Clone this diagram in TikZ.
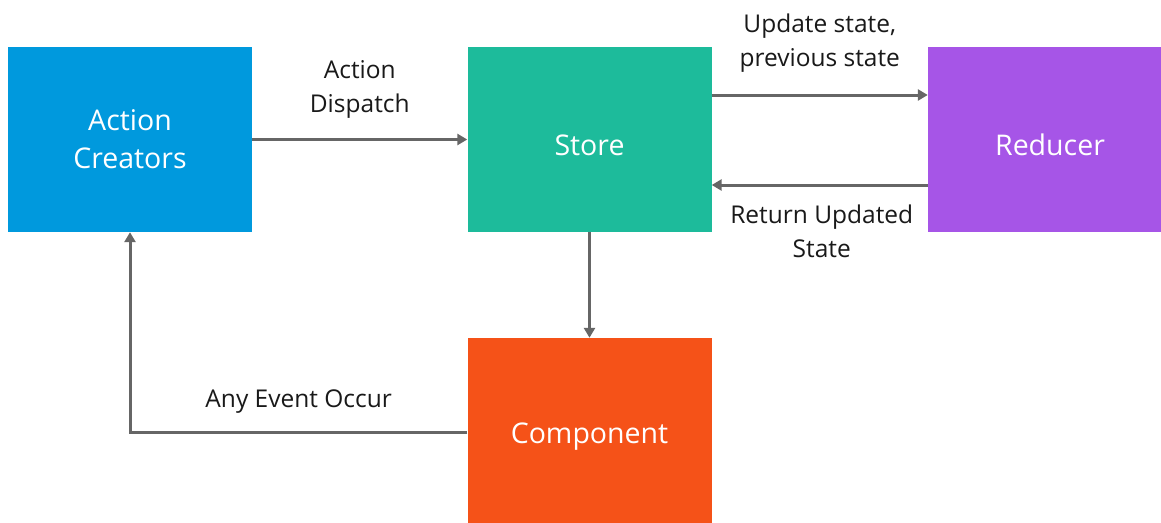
\documentclass[tikz,border=0pt]{standalone}
\usepackage{fontspec}
\setmainfont{Open Sans}
\usetikzlibrary{arrows.meta}
\definecolor{acblue}{HTML}{0099DD}
\definecolor{stteal}{HTML}{1DBB9B}
\definecolor{rdpurple}{HTML}{A655E7}
\definecolor{cporange}{HTML}{F55218}
\definecolor{flowgray}{HTML}{666666}

\begin{document}
\begin{tikzpicture}[x=1pt,y=-1pt,
  box/.style={rectangle,minimum width=244pt,minimum height=185pt,inner sep=0pt,
    text=white,font=\fontsize{28.5}{38}\selectfont,align=center},
  oneline/.style={text height=32pt,text depth=0pt},
  flow/.style={draw=flowgray,line width=3pt,-{Triangle[length=10pt,width=11pt]}},
  lbl/.style={font=\fontsize{24.5}{34}\selectfont,align=center,text=black!90}]
\useasboundingbox (0,0) rectangle (1161,522);
\node [box,fill=acblue] (creators) at (130,139.5) {Action\\Creators};
\node [box,oneline,fill=stteal] (store) at (589.5,139.5) {Store};
\node [box,oneline,fill=rdpurple] (reducer) at (1050,139.5) {Reducer};
\node [box,oneline,text height=26pt,fill=cporange] (component) at (589.5,430.5) {Component};
\coordinate (corner) at (130,432);
% arrows
\draw [flow] (creators.east) -- (store.west)
  node [lbl,midway,yshift=50pt] {Action\\Dispatch};
\draw [flow] (store.east |- 0,95) -- (reducer.west |- 0,95)
  node [lbl,midway,yshift=52pt] {Update state,\\previous state};
\draw [flow] (reducer.west |- 0,185) -- (store.east |- 0,185)
  node [lbl,midway,yshift=-46pt,xshift=2pt] {Return Updated\\State};
\draw [flow] (store.south) -- (component.north);
\draw [flow] (component.west |- corner) -- (corner)
  node [lbl,midway,yshift=30pt] {Any Event Occur} -- (creators.south);
\end{tikzpicture}
\end{document}
